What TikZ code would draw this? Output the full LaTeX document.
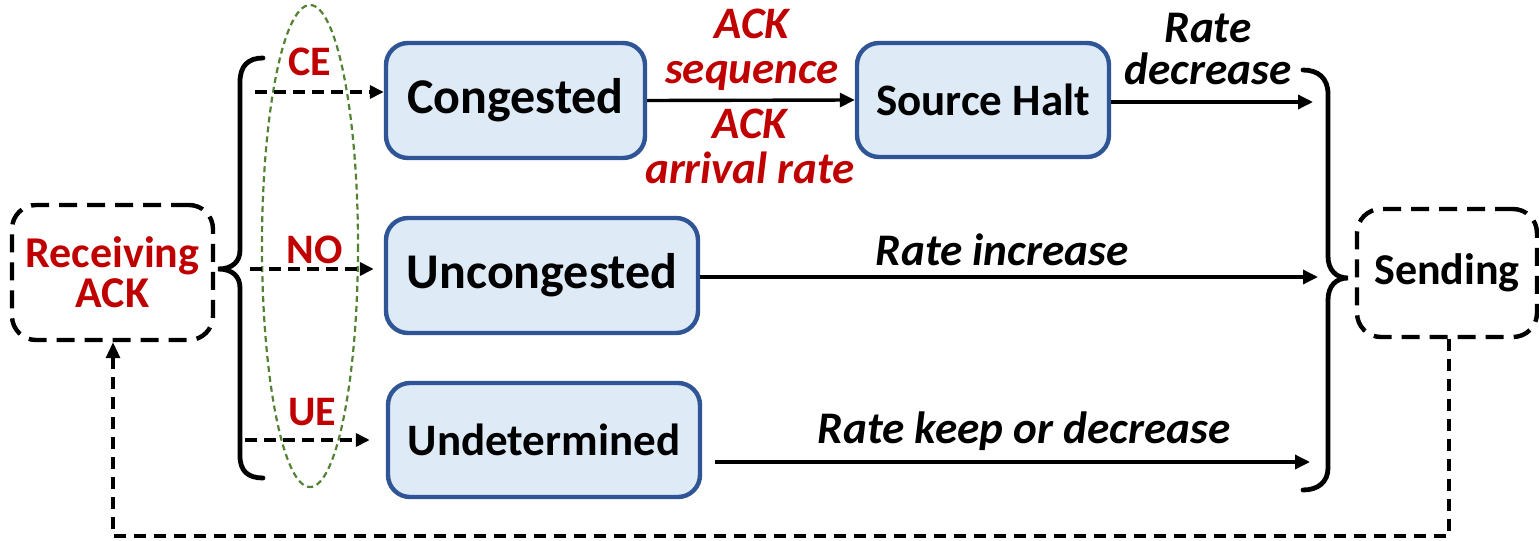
\documentclass[tikz,border=0pt]{standalone}
\usepackage{fontspec}
\setmainfont{Carlito}
\usetikzlibrary{arrows.meta}
\definecolor{ackred}{HTML}{C00000}
\definecolor{stborder}{HTML}{2F5597}
\definecolor{stfill}{HTML}{DEEBF7}
\definecolor{ovgreen}{HTML}{548235}
\begin{document}
\begin{tikzpicture}[x=0.5pt,y=-0.5pt,
  state/.style={draw=stborder, fill=stfill, line width=2.2pt, rounded corners=11pt, font=\bfseries\fontsize{22.5}{24}\selectfont, inner sep=0pt},
  dbox/.style={draw=black, line width=2.2pt, dash pattern=on 9pt off 5pt, rounded corners=12pt, font=\bfseries\fontsize{22}{22}\selectfont, inner sep=0pt, align=center},
  solidarrow/.style={draw=black, line width=1.7pt, -{Triangle[length=7.5pt,width=7pt]}},
  dasharrow/.style={draw=black, line width=1.9pt, dash pattern=on 6pt off 3.5pt, -{Triangle[length=7pt,width=6.5pt]}},
  fbarrow/.style={draw=black, line width=1.6pt, dash pattern=on 6pt off 4pt, -{Triangle[length=8pt,width=7pt]}},
  brace/.style={draw=black, line width=2.4pt, line cap=round},
  redlbl/.style={text=ackred, font=\bfseries\fontsize{21}{21}\selectfont},
  redit/.style={text=ackred, font=\bfseries\itshape\fontsize{22.5}{22.5}\selectfont, align=center},
  blkit/.style={text=black, font=\bfseries\itshape\fontsize{22.6}{21}\selectfont, align=center}
]
\useasboundingbox (0,0) rectangle (1539,541);

% boxes
\node[dbox, text=ackred, minimum width=100.5pt, minimum height=67.5pt] (recv) at (112.5,272.5) {Receiving\\[-2pt]ACK};
\node[dbox, minimum width=90pt, minimum height=64pt] (send) at (1447,273) {Sending};
\node[state, minimum width=129.5pt, minimum height=57.5pt, font=\bfseries\fontsize{25}{25}\selectfont] (cong) at (515.5,100.5) {Congested};
\node[state, minimum width=126pt, minimum height=57pt] (halt) at (983,100) {Source Halt};
\node[state, minimum width=156pt, minimum height=57.5pt, font=\bfseries\fontsize{25}{25}\selectfont] (uncong) at (542,275.5) {Uncongested};
\node[state, minimum width=156pt, minimum height=57pt] (undet) at (544,440) {Undetermined};

% green ellipse
\draw[ovgreen, line width=1.1pt, dash pattern=on 3pt off 2pt] (310,246) ellipse [x radius=48, y radius=241];

% left brace
\draw[brace] (263,58) .. controls (248,58) and (240,66) .. (240,82) -- (240,250)
  .. controls (240,262) and (232,269) .. (218,269)
  .. controls (232,269) and (240,276) .. (240,288) -- (240,456)
  .. controls (240,471) and (248,478) .. (263,478);
% right brace
\draw[brace] (1303,70) .. controls (1318,70) and (1328,78) .. (1328,94) -- (1328,256)
  .. controls (1328,270) and (1336,278) .. (1348,278)
  .. controls (1336,278) and (1328,286) .. (1328,300) -- (1328,468)
  .. controls (1328,482) and (1318,490) .. (1303,490);

% dashed arrows from left brace
\coordinate (ce0) at (255,92);
\coordinate (no0) at (250,269);
\coordinate (ue0) at (245,440);
\draw[dasharrow] (ce0) -- (cong.west |- ce0);
\draw[dasharrow] (no0) -- ([xshift=-5pt]uncong.west |- no0);
\draw[dasharrow] (ue0) -- ([xshift=-8pt]undet.west |- ue0);
\node[redlbl] (ce) at (310,62) {CE};
\node[redlbl] (no) at (315,250) {NO};
\node[redlbl] (ue) at (312,412) {UE};

% solid arrows
\coordinate (r1) at (1313,102);
\coordinate (r2) at (1318,277);
\coordinate (r3) at (1310,462);
\draw[solidarrow] (cong.east) -- (halt.west);
\draw[solidarrow] (halt.east |- r1) -- (r1);
\draw[solidarrow] (uncong.east |- r2) -- (r2);
\draw[solidarrow] ([xshift=6.5pt]undet.east |- r3) -- (r3);

% labels
\node[redit] (lseq) at (752,50) {ACK\\sequence};
\node[redit] (lrate) at (750,146.5) {ACK\\arrival rate};
\node[blkit] (ldec) at (1208,49) {Rate\\decrease};
\node[blkit] (linc) at (1002,250) {Rate increase};
\node[blkit] (lkeep) at (1024,431) {Rate keep or decrease};

% feedback
\coordinate (fb1) at (1449,536);
\coordinate (fb2) at (113,536);
\draw[fbarrow] (send.south -| fb1) -- (fb1) -- (fb2) -- (recv.south -| fb2);
\end{tikzpicture}
\end{document}
